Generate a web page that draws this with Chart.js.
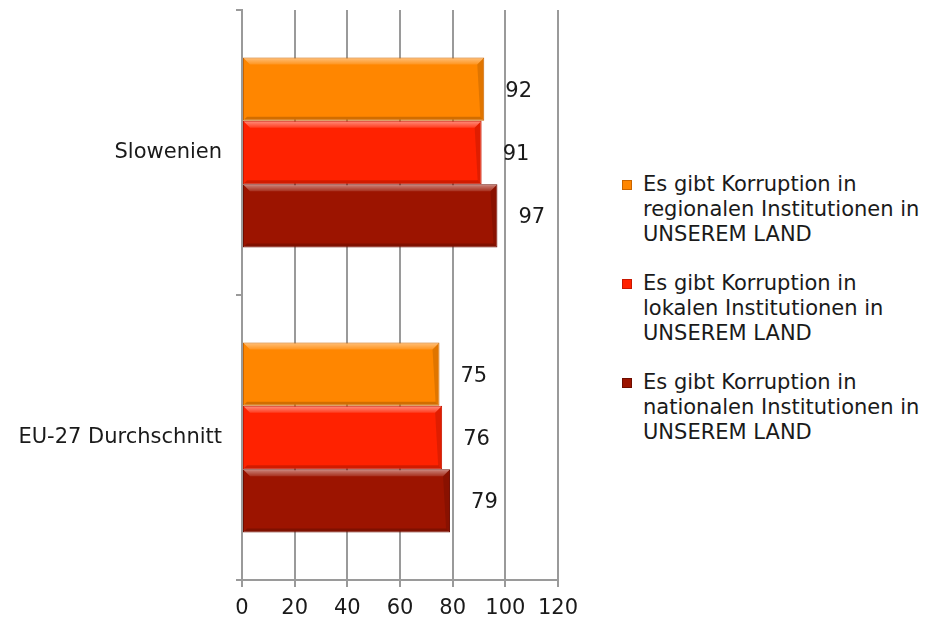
<!DOCTYPE html>
<html>
<head>
<meta charset="utf-8">
<script src="https://cdn.jsdelivr.net/npm/chart.js@4/dist/chart.umd.min.js"></script>
<style>
    body { margin: 0; background: #fff; font-family: "DejaVu Sans", Verdana, sans-serif; }
    #wrap { position: relative; width: 935px; height: 621px; }
    #chart { position: absolute; left: 0; top: 0; }
    #legend { position: absolute; left: 622px; top: 172px; color: #1a1a1a; font-size: 21px; line-height: 25px; }
    .item { position: relative; padding-left: 21px; margin-bottom: 24px; }
    .item .box { position: absolute; left: 0; top: 8px; width: 10px; height: 10px; }
</style>
</head>
<body>
<div id="wrap">
    <canvas id="chart" width="600" height="621"></canvas>
    <div id="legend"></div>
</div>
<script>
// Kategorien
const categories = ['Slowenien', 'EU-27 Durchschnitt'];

// Serien (Prozent)
const regionalValues = [92, 75];
const lokalValues = [91, 76];
const nationalValues = [97, 79];

// Legendentexte
const seriesLabels = [
    ['Es gibt Korruption in', 'regionalen Institutionen in', 'UNSEREM LAND'],
    ['Es gibt Korruption in', 'lokalen Institutionen in', 'UNSEREM LAND'],
    ['Es gibt Korruption in', 'nationalen Institutionen in', 'UNSEREM LAND']
];

// Achse
const xTicks = [0, 20, 40, 60, 80, 100, 120];

const colors = ['#ff8600', '#ff2200', '#9c1400'];
const borders = ['#c86400', '#c81800', '#6e0d00'];

const datasets = [regionalValues, lokalValues, nationalValues].map((vals, i) => ({
    label: seriesLabels[i].join(' '),
    data: vals,
    backgroundColor: colors[i],
    borderColor: borders[i],
    borderWidth: 1,
    borderSkipped: false,
    categoryPercentage: 0.667,
    barPercentage: 1.0
}));

// 3D-Effekt: heller Streifen oben, dunkler Rand unten
const bevelPlugin = {
    id: 'bevel',
    afterDatasetsDraw(chart) {
        const ctx = chart.ctx;
        chart.data.datasets.forEach((ds, di) => {
            chart.getDatasetMeta(di).data.forEach(bar => {
                const left = bar.base, right = bar.x;
                const top = bar.y - bar.height / 2, bottom = bar.y + bar.height / 2;
                const b = 7;
                ctx.save();
                // oben
                let g = ctx.createLinearGradient(0, top, 0, top + b);
                g.addColorStop(0, 'rgba(255,255,255,0.5)');
                g.addColorStop(1, 'rgba(255,255,255,0.12)');
                ctx.fillStyle = g;
                ctx.beginPath();
                ctx.moveTo(left + 1, top + 1);
                ctx.lineTo(right - 1, top + 1);
                ctx.lineTo(right - b, top + b);
                ctx.lineTo(left + b, top + b);
                ctx.closePath();
                ctx.fill();
                // unten
                ctx.fillStyle = 'rgba(0,0,0,0.18)';
                ctx.beginPath();
                ctx.moveTo(left + 1, bottom - 1);
                ctx.lineTo(right - 1, bottom - 1);
                ctx.lineTo(right - 4, bottom - 4);
                ctx.lineTo(left + 4, bottom - 4);
                ctx.closePath();
                ctx.fill();
                // rechts
                ctx.fillStyle = 'rgba(0,0,0,0.12)';
                ctx.beginPath();
                ctx.moveTo(right - 1, top + 1);
                ctx.lineTo(right - 1, bottom - 1);
                ctx.lineTo(right - 4, bottom - 4);
                ctx.lineTo(right - b, top + b);
                ctx.closePath();
                ctx.fill();
                ctx.restore();
            });
        });
    }
};

// Werte rechts neben den Balken
const valueLabels = {
    id: 'valueLabels',
    afterDatasetsDraw(chart) {
        const ctx = chart.ctx;
        ctx.save();
        ctx.font = '21px "DejaVu Sans"';
        ctx.fillStyle = '#1a1a1a';
        ctx.textAlign = 'left';
        ctx.textBaseline = 'middle';
        chart.data.datasets.forEach((ds, di) => {
            chart.getDatasetMeta(di).data.forEach((bar, i) => {
                ctx.fillText(ds.data[i], bar.x + 21, bar.y + 2);
            });
        });
        ctx.restore();
    }
};

new Chart(document.getElementById('chart'), {
    type: 'bar',
    data: { labels: categories, datasets: datasets },
    options: {
        indexAxis: 'y',
        responsive: false,
        devicePixelRatio: 1,
        animation: false,
        layout: { padding: { top: 10, right: 42, left: 0, bottom: 0 } },
        plugins: { legend: { display: false }, tooltip: { enabled: false } },
        scales: {
            x: {
                min: xTicks[0],
                max: xTicks[xTicks.length - 1],
                afterBuildTicks(scale) { scale.ticks = xTicks.map(v => ({ value: v })); },
                afterFit(scale) { scale.height = 41; },
                ticks: { color: '#1a1a1a', font: { family: 'DejaVu Sans', size: 21 }, padding: 9, maxRotation: 0 },
                grid: { color: '#9a9a9a', lineWidth: 2, tickLength: 7 },
                border: { color: '#9a9a9a', width: 2 }
            },
            y: {
                afterFit(scale) {
                    scale.width = 242;
                    scale.paddingTop = 0;
                    scale.paddingBottom = 0;
                },
                ticks: { color: '#1a1a1a', font: { family: 'DejaVu Sans', size: 21 }, padding: 14 },
                grid: { drawOnChartArea: false, color: '#9a9a9a', lineWidth: 2, tickLength: 6, offset: true },
                border: { color: '#9a9a9a', width: 2 }
            }
        }
    },
    plugins: [bevelPlugin, valueLabels]
});

// Legende
const legend = document.getElementById('legend');
seriesLabels.forEach((lines, i) => {
    const item = document.createElement('div');
    item.className = 'item';
    item.innerHTML = `<span class="box" style="background:${colors[i]};border:1px solid ${borders[i]};box-sizing:border-box"></span>${lines.join('<br>')}`;
    legend.appendChild(item);
});
</script>
</body>
</html>
